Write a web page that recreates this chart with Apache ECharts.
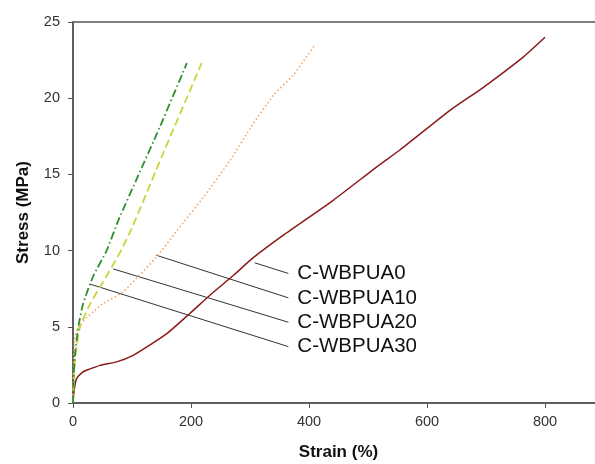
<!DOCTYPE html>
<html>
<head>
    <meta charset="UTF-8">
    <title>Stress-Strain</title>
    <script src="https://cdn.jsdelivr.net/npm/echarts@6/dist/echarts.min.js"></script>
    <style>
        html, body { margin: 0; padding: 0; background: #fff; overflow: hidden; }
    </style>
</head>
<body>
    <div id="main" style="width: 595px;height:464px;"></div>
<script type="text/javascript">

    // 曲线数据 (strain %, stress MPa)
    var wbpua0 = [[0,0],[1,0.5],[2,0.85],[6,1.6],[17,2.04],[23,2.15],[46,2.47],[74,2.7],[102,3.13],[130,3.8],[159,4.55],[198,5.87],[232,7.07],[272,8.38],[306,9.55],[356,11.0],[441,13.3],[515,15.5],[554,16.6],[639,19.2],[695,20.7],[763,22.7],[800,24.0]];
    var wbpua10 = [[0,0],[1,2.5],[3,4.3],[6,4.7],[12,5.1],[23,5.6],[35,6.0],[50,6.5],[85,7.3],[108,8.2],[142,9.6],[176,11.3],[221,13.5],[266,15.9],[300,18.0],[340,20.2],[373,21.5],[390,22.4],[410,23.5]];
    var wbpua20 = [[0,0],[2,2.0],[6,3.7],[12,5.0],[29,6.5],[51,7.95],[80,9.9],[100,11.5],[153,16.4],[218,22.3]];
    var wbpua30 = [[0,0],[1,1.5],[3,3.0],[6,4.1],[10,5.2],[17,6.5],[34,8.3],[57,10.0],[77,12.0],[108,14.7],[147,18.1],[193,22.3]];

    var names = ['C-WBPUA0', 'C-WBPUA10', 'C-WBPUA20', 'C-WBPUA30'];
    // 标注线 起点/终点
    var annoStart = [[308, 9.2], [141, 9.7], [68, 8.8], [29, 7.8]];
    var annoEnd = [[365, 8.5], [365, 6.9], [365, 5.3], [365, 3.7]];

    var xTicks = [0, 200, 400, 600, 800];
    var yTicks = [0, 5, 10, 15, 20, 25];

    var font = "'Liberation Sans', Arial, sans-serif";
    var myChart = echarts.init(document.getElementById('main'));

    var series = [
        { data: wbpua0, color: '#8b1a1a', type: 'solid', width: 1.5 },
        { data: wbpua10, color: '#f3a96c', type: [1.5, 2.5], width: 1.7 },
        { data: wbpua20, color: '#c9d43a', type: [8, 4], width: 1.8 },
        { data: wbpua30, color: '#2f8f2f', type: [8, 3, 1.5, 3], width: 1.8 }
    ].map(function (s, i) {
        return {
            name: names[i],
            type: 'line',
            data: s.data,
            showSymbol: false,
            smooth: 0.2,
            silent: true,
            lineStyle: { color: s.color, width: s.width, type: s.type }
        };
    });

    // 标注线 + 文字
    names.forEach(function (n, i) {
        series.push({
            name: 'anno' + i,
            type: 'line',
            data: [annoStart[i], annoEnd[i]],
            showSymbol: false,
            silent: true,
            z: 1,
            lineStyle: { color: '#333', width: 1 },
            endLabel: {
                show: true,
                formatter: n,
                distance: 9,
                fontSize: 20.5,
                fontFamily: font,
                color: '#111'
            }
        });
    });

    option = {
        backgroundColor: '#fff',
        animation: false,
        grid: {
            left: 73, top: 22, right: -9, bottom: 61,
            outerBoundsMode: 'none',
            containLabel: false,
            show: true, borderColor: '#555', borderWidth: 1.5
        },
        xAxis: {
            type: 'value',
            min: 0, max: 900, interval: 200,
            name: 'Strain (%)',
            nameLocation: 'middle',
            nameGap: 41,
            nameTextStyle: { fontSize: 17, fontWeight: 'bold', fontFamily: font, color: '#111' },
            axisLine: { lineStyle: { color: '#555', width: 1.5 } },
            axisTick: { show: true, length: 5, lineStyle: { color: '#555' } },
            axisLabel: {
                fontSize: 14.5, fontFamily: font, color: '#333', margin: 11,
                formatter: function (v) { return xTicks.indexOf(v) >= 0 ? v : ''; }
            },
            splitLine: { show: false }
        },
        yAxis: {
            type: 'value',
            min: 0, max: 25, interval: 5,
            name: 'Stress (MPa)',
            nameLocation: 'middle',
            nameGap: 41,
            nameTextStyle: { fontSize: 17, fontWeight: 'bold', fontFamily: font, color: '#111' },
            axisLine: { show: true, lineStyle: { color: '#555', width: 1.5 } },
            axisTick: { show: true, length: 5, lineStyle: { color: '#555' } },
            axisLabel: {
                fontSize: 14.5, fontFamily: font, color: '#333', margin: 13,
                formatter: function (v) { return yTicks.indexOf(v) >= 0 ? v : ''; }
            },
            splitLine: { show: false }
        },
        series: series
    };

    myChart.setOption(option);
</script>
</body>
</html>
